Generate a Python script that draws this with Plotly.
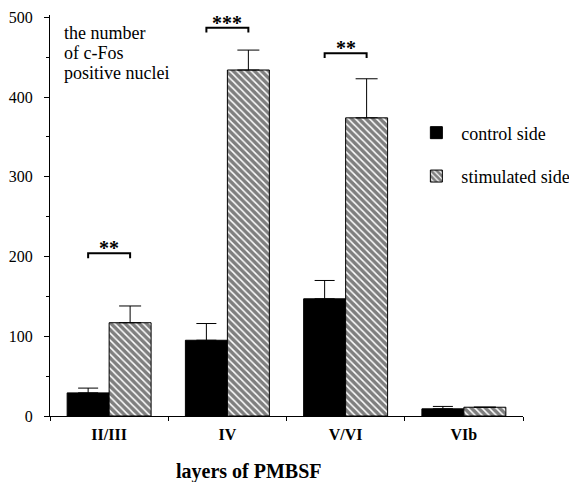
import plotly.graph_objects as go

categories = ["II/III", "IV", "V/VI", "VIb"]
control = [29, 95, 147, 9]
control_err = [6, 21, 23, 3]
stimulated = [117, 434, 374, 11]
stimulated_err = [21, 25, 49, 0]
sig_groups = [0, 1, 2]
sig_levels = [204, 487, 455]
sig_labels = ["**", "***", "**"]
y_ticks = [0, 100, 200, 300, 400, 500]
y_title_lines = ["the number", "of c-Fos", "positive nuclei"]

SERIF = "Liberation Serif"

fig = go.Figure()
fig.add_trace(go.Bar(
    x=categories, y=control, name="control side",
    marker=dict(color="black", line=dict(color="black", width=1)),
    error_y=dict(type="data", symmetric=False, array=control_err,
                 arrayminus=[0] * len(control), color="black", thickness=1, width=10),
    legendgroup="a",
))
fig.add_trace(go.Bar(
    x=categories, y=stimulated, name="stimulated side",
    marker=dict(color="white", line=dict(color="black", width=1),
                pattern=dict(shape="\\", fgcolor="black", bgcolor="white",
                             size=5, solidity=0.7)),
    error_y=dict(type="data", symmetric=False, array=stimulated_err,
                 arrayminus=[0] * len(stimulated), color="black", thickness=1, width=11),
    legendgroup="b",
))

half = (1 - 0.29) / 4  # half distance between the two bar centres in a group
drop = 6
for g, lvl, lab in zip(sig_groups, sig_levels, sig_labels):
    fig.add_shape(type="path",
                  path=f"M {g - half},{lvl - drop} L {g - half},{lvl} L {g + half},{lvl} L {g + half},{lvl - drop}",
                  xref="x", yref="y", line=dict(color="black", width=2))
    fig.add_annotation(x=g, y=lvl, xref="x", yref="y", text=f"<b>{lab}</b>", showarrow=False,
                       yanchor="bottom", yshift=-8,
                       font=dict(family=SERIF, size=20, color="black"))

for i, line in enumerate(y_title_lines):
    fig.add_annotation(x=0.025, y=1, yshift=-18 - 20 * i, xref="paper", yref="paper",
                       xanchor="left", yanchor="middle", showarrow=False, text=line,
                       font=dict(family=SERIF, size=18, color="black"))
fig.add_annotation(x=0.42, y=0, yshift=-55, xref="paper", yref="paper", xanchor="center", yanchor="middle",
                   showarrow=False, text="<b>layers of PMBSF</b>",
                   font=dict(family=SERIF, size=20, color="black"))

fig.update_layout(
    width=569, height=482,
    margin=dict(l=50, r=46, t=15, b=66, autoexpand=False),
    plot_bgcolor="white", paper_bgcolor="white",
    barmode="group", bargap=0.29, bargroupgap=0,
    font=dict(family=SERIF, color="black"),
    legend=dict(x=0.764, y=0.752, xanchor="left", yanchor="top",
                font=dict(family=SERIF, size=18, color="black"),
                tracegroupgap=17, itemwidth=40, bgcolor="rgba(0,0,0,0)"),
)
fig.update_xaxes(
    type="category", showline=True, linecolor="black", linewidth=1,
    ticks="outside", tickson="boundaries", ticklen=4, tickcolor="black",
    showgrid=False, zeroline=False, automargin=False, ticklabelstandoff=4,
    tickfont=dict(family=SERIF, size=16, color="black"),
    tickprefix="<b>", ticksuffix="</b>",
)
fig.update_yaxes(
    range=[0, 503], showline=True, linecolor="black", linewidth=1,
    tickvals=y_ticks, ticks="outside", ticklen=5, tickcolor="black",
    minor=dict(dtick=50, ticks="outside", ticklen=3, tickcolor="black", showgrid=False),
    showgrid=False, zeroline=False, automargin=False, ticklabelstandoff=8,
    tickfont=dict(family=SERIF, size=16, color="black"),
    tickprefix="<b>", ticksuffix="</b>",
)

fig.write_html("out.html", config={"displayModeBar": False},
               post_script="document.body.style.margin='0';document.body.style.overflow='hidden';")
